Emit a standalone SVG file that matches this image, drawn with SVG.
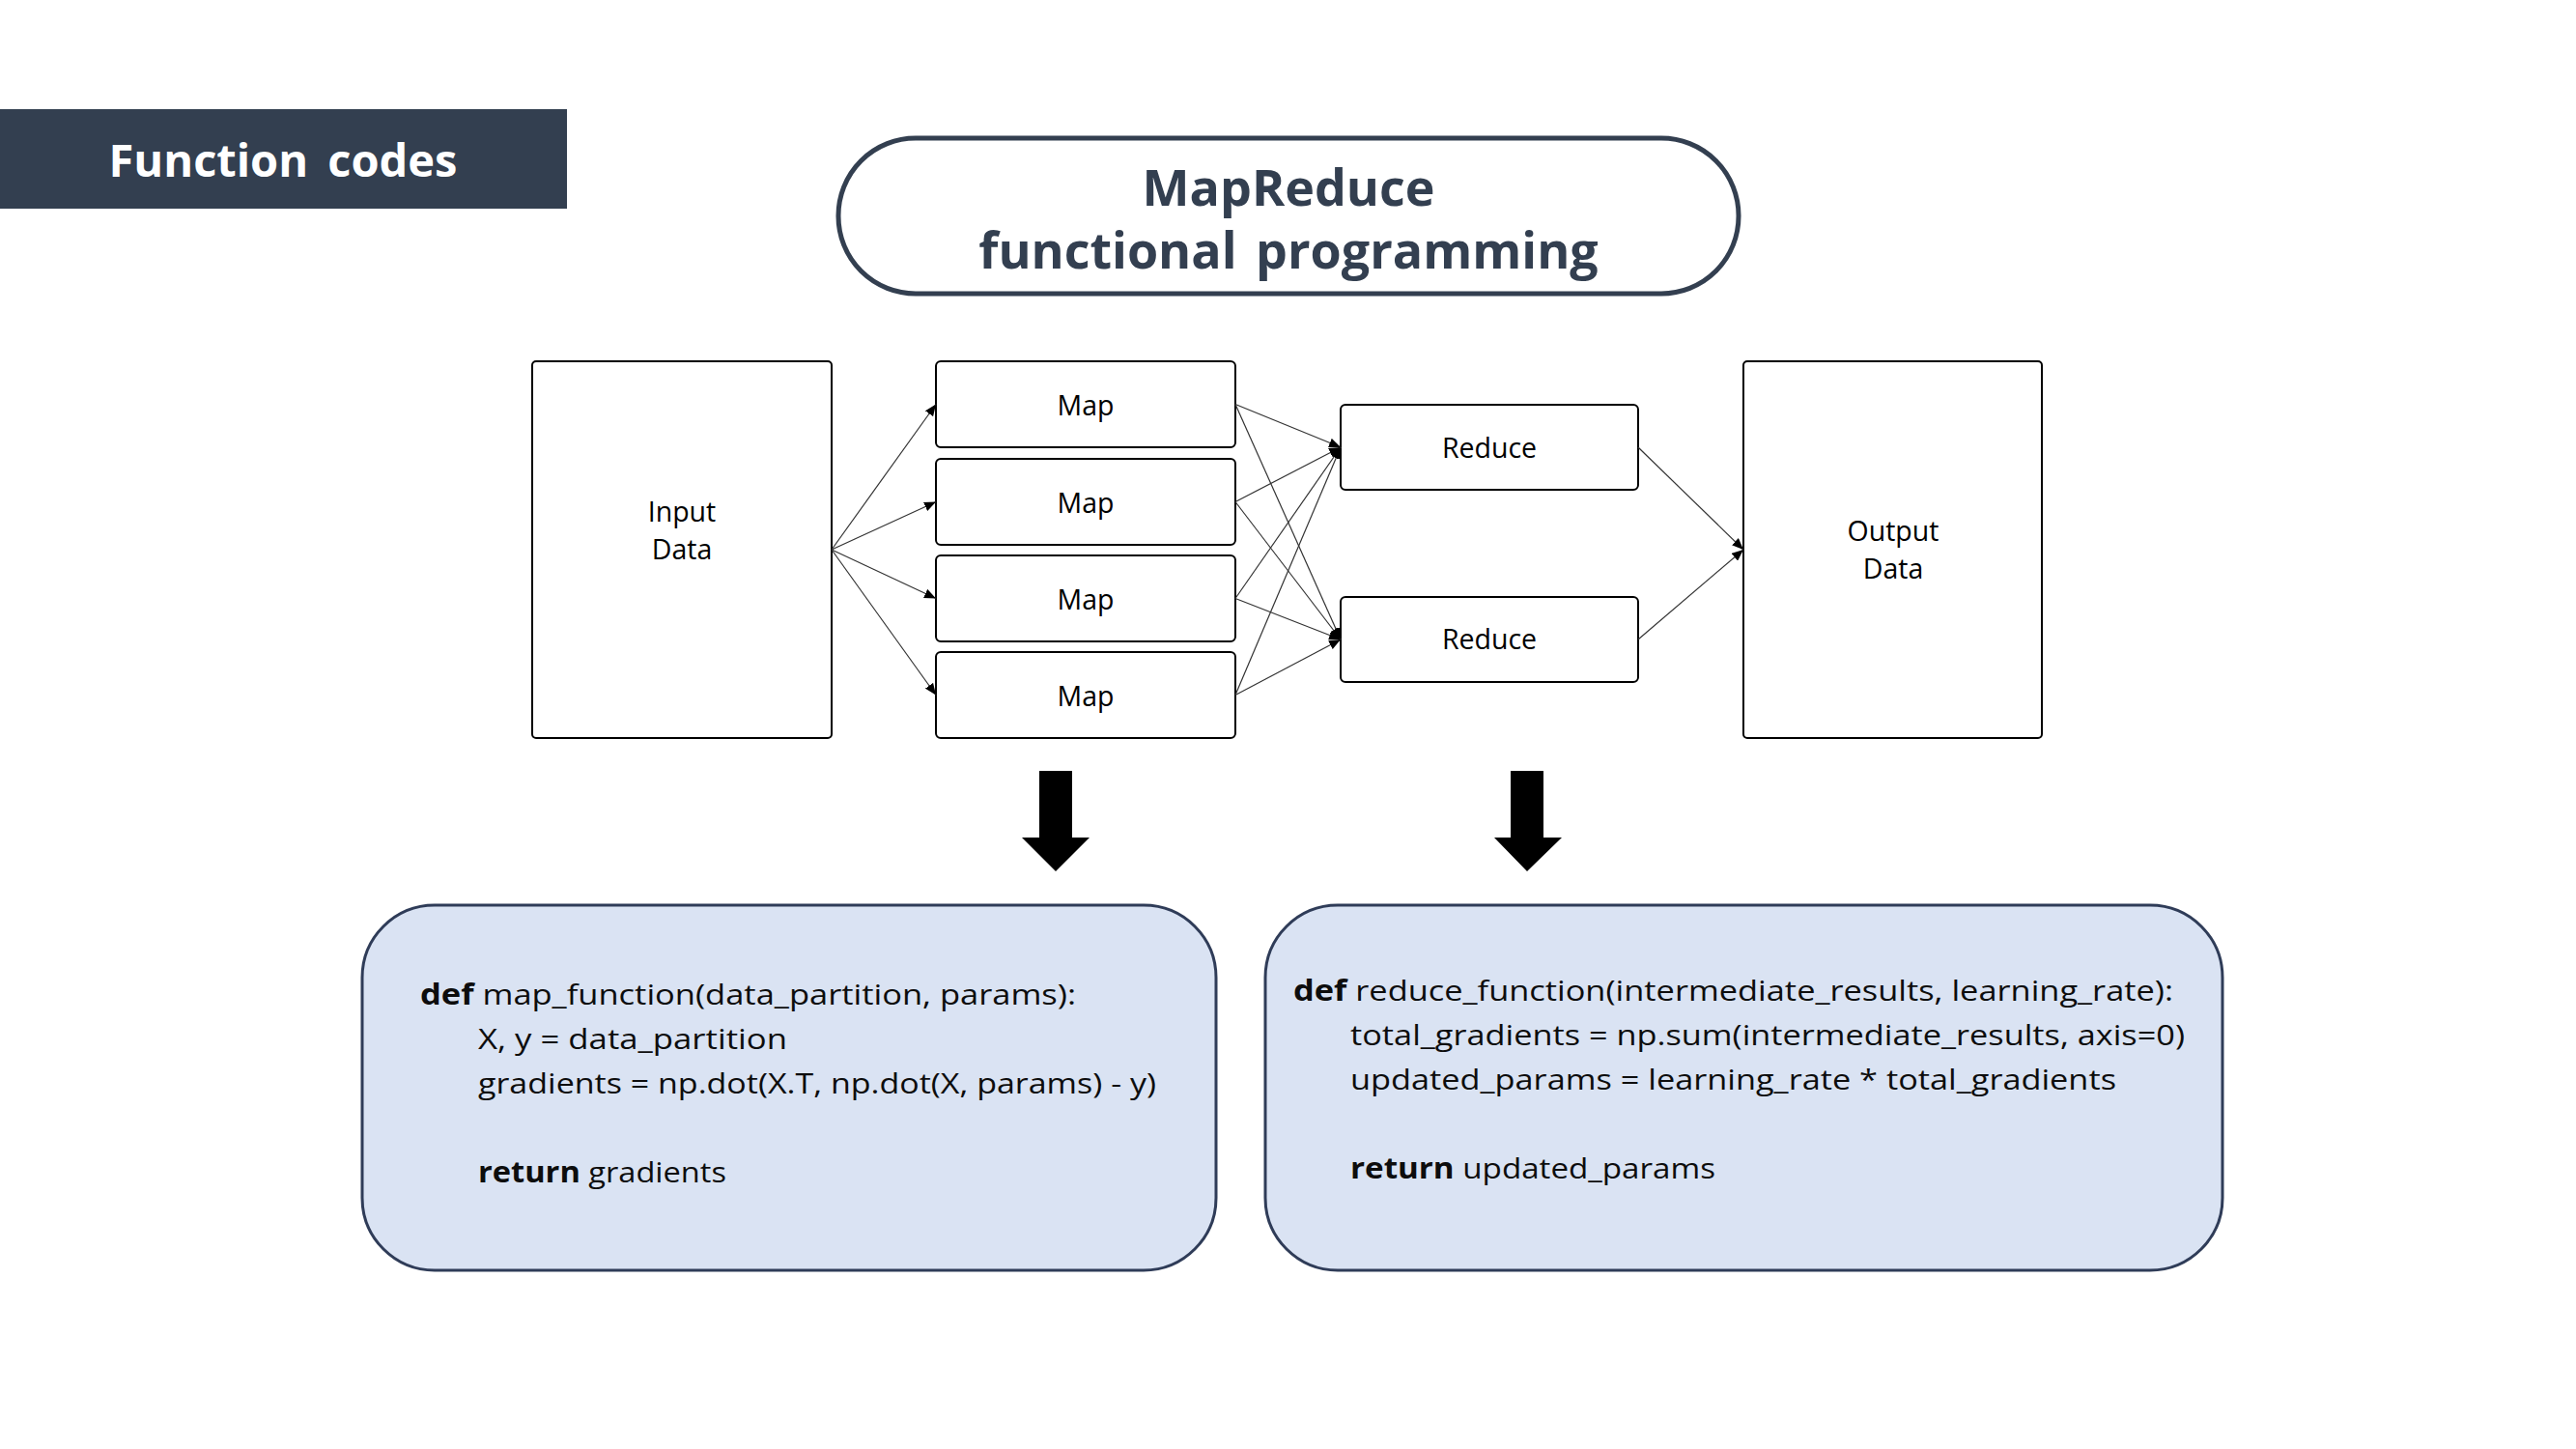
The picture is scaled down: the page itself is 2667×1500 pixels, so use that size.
<svg xmlns="http://www.w3.org/2000/svg" width="2667" height="1500" viewBox="0 0 2667 1500">
<defs>
<marker id="ah" markerUnits="userSpaceOnUse" markerWidth="12" markerHeight="10" refX="12" refY="5" orient="auto">
<path d="M0,0 L12,5 L0,10 z" fill="#000"/>
</marker>
<style>
.box{fill:#fff;stroke:#000;stroke-width:2}
.lbl{font-family:"Open Sans","Noto Sans",sans-serif;font-size:28.5px;fill:#000;text-anchor:middle}
.ttl{font-family:"Open Sans","Noto Sans",sans-serif;font-weight:700;fill:#333f50;text-anchor:middle}
.code{fill:#dae3f3;stroke:#2f3c58;stroke-width:3}
.ct{font-family:"Open Sans","Noto Sans",sans-serif;font-size:30px;fill:#0d0d0d}
.kw{font-weight:700}
.conn line{stroke:#333;stroke-width:1.2;marker-end:url(#ah)}
</style>
</defs>
<rect width="2667" height="1500" fill="#fff"/>

<g id="header">
<rect x="0" y="113" width="587" height="103" fill="#333f50"/>
<text x="293" y="183" font-family="'Open Sans','Noto Sans',sans-serif" font-weight="700" font-size="47" fill="#fff" text-anchor="middle" word-spacing="8">Function codes</text>
</g>

<g id="title">
<rect x="868" y="143" width="932" height="161" rx="80" ry="80" fill="#fff" stroke="#333f50" stroke-width="5"/>
<text class="ttl" x="1334" y="213" font-size="52">MapReduce</text>
<text class="ttl" x="1334" y="278" font-size="52" word-spacing="6">functional programming</text>
</g>

<g id="input">
<rect class="box" x="551" y="374" width="310" height="390" rx="4"/>
<text class="lbl" x="706" y="540">Input</text>
<text class="lbl" x="706" y="579">Data</text>
</g>

<g id="map1"><rect class="box" x="969" y="374" width="310" height="89" rx="5"/><text class="lbl" x="1124" y="430">Map</text></g>
<g id="map2"><rect class="box" x="969" y="475" width="310" height="89" rx="5"/><text class="lbl" x="1124" y="531">Map</text></g>
<g id="map3"><rect class="box" x="969" y="575" width="310" height="89" rx="5"/><text class="lbl" x="1124" y="631">Map</text></g>
<g id="map4"><rect class="box" x="969" y="675" width="310" height="89" rx="5"/><text class="lbl" x="1124" y="731">Map</text></g>

<g id="reduce1"><rect class="box" x="1388" y="419" width="308" height="88" rx="5"/><text class="lbl" x="1542" y="474">Reduce</text></g>
<g id="reduce2"><rect class="box" x="1388" y="618" width="308" height="88" rx="5"/><text class="lbl" x="1542" y="672">Reduce</text></g>

<g id="output">
<rect class="box" x="1805" y="374" width="309" height="390" rx="4"/>
<text class="lbl" x="1960" y="560">Output</text>
<text class="lbl" x="1960" y="599">Data</text>
</g>

<g id="connectors" class="conn">
<line x1="861" y1="569" x2="969" y2="418.5"/>
<line x1="861" y1="569" x2="969" y2="519.5"/>
<line x1="861" y1="569" x2="969" y2="619.5"/>
<line x1="861" y1="569" x2="969" y2="719.5"/>
<line x1="1279" y1="418.5" x2="1388" y2="463"/>
<line x1="1279" y1="418.5" x2="1388" y2="662"/>
<line x1="1279" y1="519.5" x2="1388" y2="463"/>
<line x1="1279" y1="519.5" x2="1388" y2="662"/>
<line x1="1279" y1="619.5" x2="1388" y2="463"/>
<line x1="1279" y1="619.5" x2="1388" y2="662"/>
<line x1="1279" y1="719.5" x2="1388" y2="463"/>
<line x1="1279" y1="719.5" x2="1388" y2="662"/>
<line x1="1696" y1="463" x2="1805" y2="569"/>
<line x1="1696" y1="662" x2="1805" y2="569"/>
</g>

<g id="down-arrows" fill="#000">
<polygon points="1076,798 1110,798 1110,867 1128,867 1093,902 1058,867 1076,867"/>
<polygon points="1564,798 1598,798 1598,867 1617,867 1581,902 1547,867 1564,867"/>
</g>

<g id="map-code">
<rect class="code" x="375" y="937" width="884" height="378" rx="75" ry="75"/>
<text class="ct" x="435" y="1040" textLength="679" lengthAdjust="spacingAndGlyphs"><tspan class="kw">def</tspan> map_function(data_partition, params):</text>
<text class="ct" x="495" y="1086" textLength="320" lengthAdjust="spacingAndGlyphs">X, y = data_partition</text>
<text class="ct" x="495" y="1132" textLength="702" lengthAdjust="spacingAndGlyphs">gradients = np.dot(X.T, np.dot(X, params) - y)</text>
<text class="ct" x="495" y="1224" textLength="257" lengthAdjust="spacingAndGlyphs"><tspan class="kw">return</tspan> gradients</text>
</g>

<g id="reduce-code">
<rect class="code" x="1310" y="937" width="991" height="378" rx="75" ry="75"/>
<text class="ct" x="1339" y="1036" textLength="911" lengthAdjust="spacingAndGlyphs"><tspan class="kw">def</tspan> reduce_function(intermediate_results, learning_rate):</text>
<text class="ct" x="1398" y="1082" textLength="864" lengthAdjust="spacingAndGlyphs">total_gradients = np.sum(intermediate_results, axis=0)</text>
<text class="ct" x="1398" y="1128" textLength="793" lengthAdjust="spacingAndGlyphs">updated_params = learning_rate * total_gradients</text>
<text class="ct" x="1398" y="1220" textLength="378" lengthAdjust="spacingAndGlyphs"><tspan class="kw">return</tspan> updated_params</text>
</g>
</svg>
